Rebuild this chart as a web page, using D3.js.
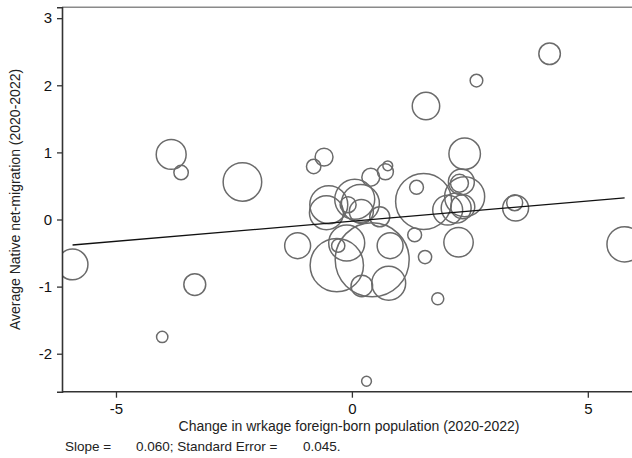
<!DOCTYPE html>
<html>
<head>
<meta charset="utf-8">
<script src="https://cdn.jsdelivr.net/npm/d3@7"></script>
<style>
  html, body { margin: 0; padding: 0; background: #fff; }
  svg { display: block; font-family: "Liberation Sans", Arial, sans-serif; }
</style>
</head>
<body>
<svg id="chart" width="632" height="458"></svg>
<script>
// ---- Data ----
const changeForeignBorn = [-3.83, -3.62, -2.32, -0.81, -0.59, -5.92, -3.33, -4.02, -1.15, 0.31,
  1.82, 1.55, 2.26, 5.78, 0.81, 0.78, 0.21, -0.32, 0.43, -0.11,
  -0.29, 1.33, 4.19, 2.64, 1.57, 2.39, 0.40, 0.71, 0.76, 1.37,
  2.32, 2.28, 2.39, 1.52, 2.03, 2.21, 2.35, 3.47, 3.45, -0.49,
  -0.54, 0.06, 0.18, -0.08, 0.20, 0.59];
const nativeNetMigration = [0.97, 0.70, 0.56, 0.79, 0.93, -0.67, -0.97, -1.75, -0.39, -2.41,
  -1.18, -0.56, -0.34, -0.37, -0.39, -0.95, -0.99, -0.68, -0.60, -0.35,
  -0.39, -0.23, 2.47, 2.07, 1.69, 0.98, 0.63, 0.71, 0.80, 0.48,
  0.56, 0.54, 0.34, 0.27, 0.14, 0.17, 0.19, 0.17, 0.25, 0.22,
  0.10, 0.30, 0.24, 0.22, 0.12, 0.04];
const bubbleWeight = [56, 13, 93, 13, 20, 59, 30, 8, 42, 6,
  9, 11, 54, 78, 42, 72, 29, 178, 342, 81,
  11, 12, 29, 10, 47, 62, 20, 16, 6, 12,
  42, 20, 100, 196, 56, 56, 36, 42, 16, 90,
  72, 100, 90, 16, 36, 25];
const xTicks = [-5, 0, 5];
const yTicks = [-2, -1, 0, 1, 2, 3];
const slope = 0.060;
const intercept = -0.025;
const xTitle = "Change in wrkage foreign-born population (2020-2022)";
const yTitle = "Average Native net-migration (2020-2022)";
const captionParts = ["Slope =", "0.060; Standard Error =", "0.045."];

// ---- Layout ----
const svg = d3.select("#chart");
const mLeft = 62, mRight = 635, mTop = 7.3, mBottom = 391.7;

const x = d3.scaleLinear().domain([-6.144, 6.0]).range([mLeft, mRight]);
const y = d3.scaleLinear().domain([-2.566, 3.162]).range([mBottom, mTop]);
const r = d3.scaleSqrt().domain([0, 400]).range([0, 40]);

const points = changeForeignBorn.map((v, i) => ({ x: v, y: nativeNetMigration[i], w: bubbleWeight[i] }));

svg.append("clipPath").attr("id", "clip")
  .append("rect").attr("x", mLeft).attr("y", mTop).attr("width", mRight - mLeft).attr("height", mBottom - mTop);

const plot = svg.append("g").attr("clip-path", "url(#clip)");

plot.selectAll("circle").data(points).enter().append("circle")
  .attr("cx", d => x(d.x))
  .attr("cy", d => y(d.y))
  .attr("r", d => r(d.w))
  .attr("fill", "none")
  .attr("stroke", "#6b6b6b")
  .attr("stroke-width", 1.5);

const xMin = d3.min(changeForeignBorn), xMax = d3.max(changeForeignBorn);
plot.append("line")
  .attr("x1", x(xMin)).attr("y1", y(intercept + slope * xMin))
  .attr("x2", x(xMax)).attr("y2", y(intercept + slope * xMax))
  .attr("stroke", "#111").attr("stroke-width", 1.3);

// top frame line
svg.append("line").attr("x1", mLeft).attr("x2", 632).attr("y1", mTop).attr("y2", mTop)
  .attr("stroke", "#8a8a8a").attr("stroke-width", 1.6);

// axes
const fmt = d => String(d);
const xAxis = svg.append("g").attr("transform", `translate(0,${mBottom})`)
  .call(d3.axisBottom(x).tickValues(xTicks).tickSize(6).tickPadding(6).tickFormat(fmt));
const yAxis = svg.append("g").attr("transform", `translate(${mLeft},0)`)
  .call(d3.axisLeft(y).tickValues(yTicks).tickSize(5).tickPadding(5).tickFormat(fmt));

[xAxis, yAxis].forEach(g => {
  g.select(".domain").attr("stroke", "#333").attr("stroke-width", 1.6);
  g.selectAll(".tick line").attr("stroke", "#333").attr("stroke-width", 1.3);
  g.selectAll(".tick text").attr("fill", "#111").style("font-size", "15px")
    .style("font-family", "'Liberation Sans', Arial, sans-serif");
});
xAxis.select(".domain").attr("d", `M${mLeft},0H632`);

// titles
svg.append("text").attr("x", 349).attr("y", 431).attr("text-anchor", "middle")
  .style("font-size", "14px").attr("fill", "#222").text(xTitle);
svg.append("text").attr("transform", `translate(20,${(mTop + mBottom) / 2}) rotate(-90)`)
  .attr("text-anchor", "middle").style("font-size", "14px").attr("fill", "#222").text(yTitle);

// caption
const capX = [65, 136, 303];
captionParts.forEach((t, i) => {
  svg.append("text").attr("x", capX[i]).attr("y", 451)
    .style("font-size", "13.5px").attr("fill", "#222").text(t);
});
</script>
</body>
</html>
